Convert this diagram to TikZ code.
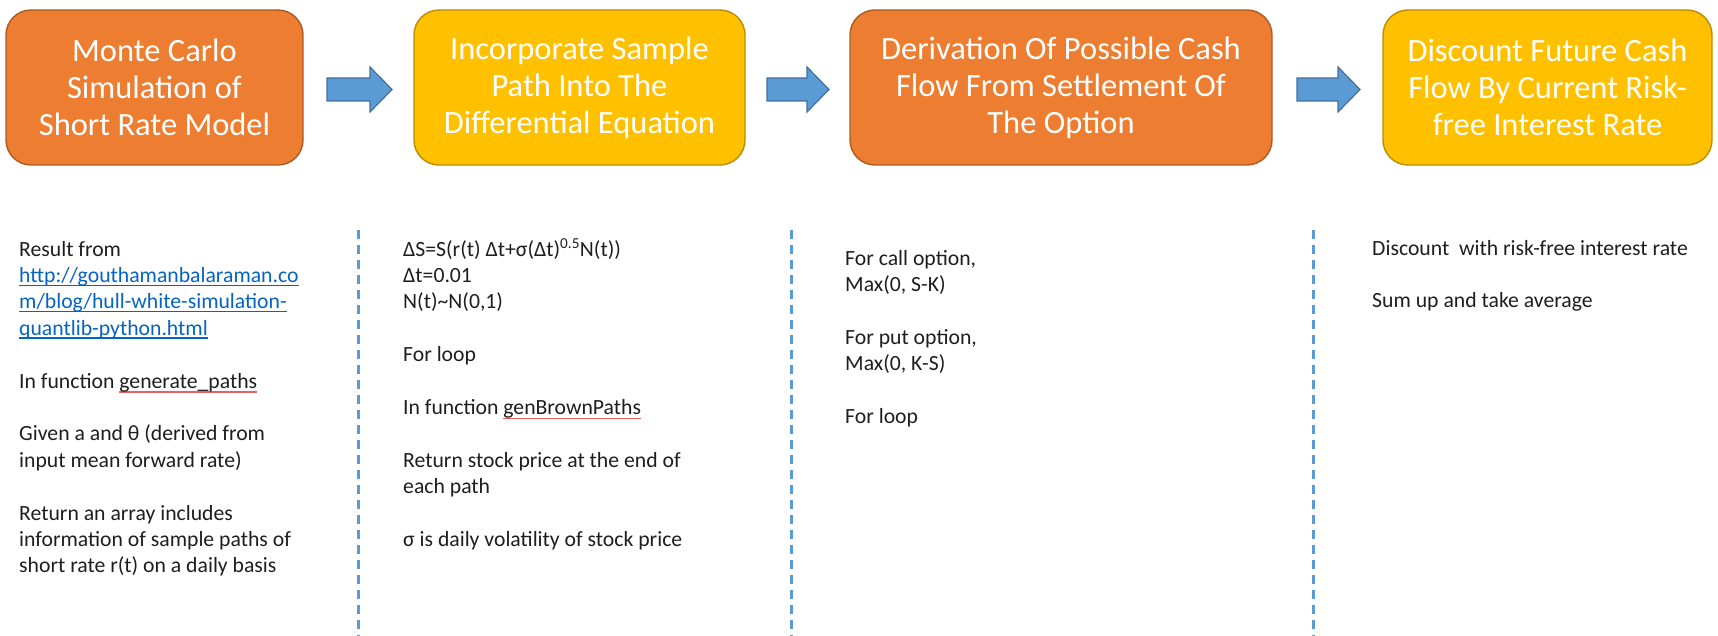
\documentclass[tikz,border=0pt]{standalone}
\usepackage{fontspec}
\setmainfont{Carlito}
\definecolor{orangefill}{HTML}{ED7D31}
\definecolor{orangeline}{HTML}{AE5A21}
\definecolor{yellowfill}{HTML}{FFC000}
\definecolor{yellowline}{HTML}{BC8C00}
\definecolor{arrowfill}{HTML}{5B9BD5}
\definecolor{arrowline}{HTML}{41719C}
\definecolor{linkblue}{HTML}{0563C1}
\definecolor{spellred}{HTML}{E8605F}
\definecolor{bodytext}{HTML}{1E1E1E}
\newcommand\linkul[1]{{\color{linkblue}\setbox0\hbox{#1}\rlap{\rule[-3.5pt]{\wd0}{1.4pt}}\box0}}
\newcommand\spellul[1]{{\setbox0\hbox{#1}\rlap{\color{spellred}\rule[-4.5pt]{\wd0}{1.3pt}}\box0}}
\begin{document}
\begin{tikzpicture}[x=1pt,y=-1pt,
  stagebox/.style={rounded corners=25pt, line width=1.4pt, minimum height=155pt,
    align=center, text=white, inner sep=0pt,
    font=\fontsize{32.5}{37}\selectfont},
  orangebox/.style={stagebox, fill=orangefill, draw=orangeline},
  yellowbox/.style={stagebox, fill=yellowfill, draw=yellowline},
  blockarrow/.style={fill=arrowfill, draw=arrowline, line width=1.2pt, line join=miter},
  sepline/.style={draw=arrowfill, line width=3pt, dash pattern=on 9pt off 6pt},
  bodytxt/.style={anchor=north west, align=left, inner sep=0pt, text=bodytext,
    font=\fontsize{21.7}{26.4}\selectfont}
]
\useasboundingbox (0,0) rectangle (1718,636);

% stage boxes
\node[orangebox, minimum width=297pt] (b1) at (154.5,87.5)
  {Monte Carlo\\Simulation of\\Short Rate Model};
\node[yellowbox, minimum width=331pt] (b2) at (579.5,87.5)
  {Incorporate Sample\\Path Into The\\Differential Equation};
\node[orangebox, minimum width=422pt] (b3) at (1061,87.5)
  {Derivation Of Possible Cash\\Flow From Settlement Of\\The Option};
\node[yellowbox, minimum width=329pt] (b4) at (1547.5,87.5)
  {Discount Future Cash\\Flow By Current Risk-\\free Interest Rate};

% block arrows
\draw[blockarrow] (327,78) -- (370,78) -- (370,67) -- (392,89.5) -- (370,112) -- (370,101) -- (327,101) -- cycle;
\draw[blockarrow] (767,78) -- (807,78) -- (807,67) -- (829,89.5) -- (807,112) -- (807,101) -- (767,101) -- cycle;
\draw[blockarrow] (1297,78) -- (1338,78) -- (1338,67) -- (1360,89.5) -- (1338,112) -- (1338,101) -- (1297,101) -- cycle;

% dashed separators
\coordinate (s1t) at (358,230); \coordinate (s1b) at (358,636);
\coordinate (s2t) at (791,230); \coordinate (s2b) at (791,636);
\coordinate (s3t) at (1313,230); \coordinate (s3b) at (1313,636);
\draw[sepline] (s1t) -- (s1b);
\draw[sepline] (s2t) -- (s2b);
\draw[sepline] (s3t) -- (s3b);

% column texts (first baselines at 256, 256, 265, 255)
\node[bodytxt] (c1) at (19,237.5) {\strut Result from\\
\linkul{http://gouthamanbalaraman.co}\\
\linkul{m/blog/hull-white-simulation-}\\
\linkul{quantlib-python.html}\\[26.4pt]
In function \spellul{generate\_paths}\\[26.4pt]
Given a and θ (derived from\\
input mean forward rate)\\[26.4pt]
Return an array includes\\
information of sample paths of\\
short rate r(t) on a daily basis};

\node[bodytxt] (c2) at (403,237.5) {\strut ΔS=S(r(t) Δt+σ(Δt)\textsuperscript{0.5}N(t))\\
Δt=0.01\\
N(t)\textasciitilde N(0,1)\\[26.4pt]
For loop\\[26.4pt]
In function \spellul{genBrownPaths}\\[26.4pt]
Return stock price at the end of\\
each path\\[26.4pt]
σ is daily volatility of stock price};

\node[bodytxt] (c3) at (845,246.5) {\strut For call option,\\
Max(0, S-K)\\[26.4pt]
For put option,\\
Max(0, K-S)\\[26.4pt]
For loop};

\node[bodytxt] (c4) at (1372,236.5) {\strut Discount\ \ with risk-free interest rate\\[26.4pt]
Sum up and take average};
\end{tikzpicture}
\end{document}
